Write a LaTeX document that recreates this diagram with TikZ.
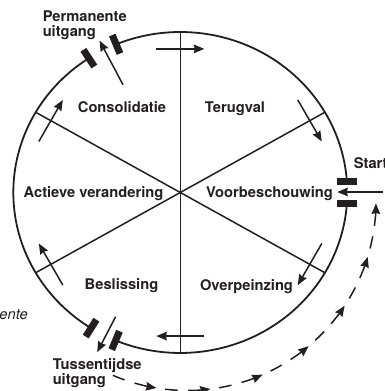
\documentclass[tikz,border=0pt]{standalone}
\usepackage{fontspec}
\setmainfont{TeX Gyre Heros}
\usetikzlibrary{arrows.meta,calc}
\definecolor{ink}{HTML}{231F20}

\begin{document}
\begin{tikzpicture}[
    x=1pt, y=1pt,
    font=\fontsize{14.7}{15}\selectfont\bfseries,
    color=ink, line width=1.5pt,
    phase/.style={anchor=base, inner sep=0pt},
    exitlabel/.style={anchor=north west, align=left, inner sep=0pt},
    exitbar/.style={fill=ink, inner sep=0pt, minimum width=20pt, minimum height=7pt},
    flow/.style={-{Stealth[length=10.5pt,width=8.5pt,inset=1pt]}},
  ]
\useasboundingbox (0,0) rectangle (385,391);
\coordinate (c) at (180.3,198.5);
\coordinate (dc) at (187,189.5);

% wheel, open at the three gates
\draw[line width=1.8pt] ($(c)+(4:167 and 160.5)$) arc[start angle=4, end angle=112.6, x radius=167, y radius=160.5];
\draw[line width=1.8pt] ($(c)+(123.2:167 and 160.5)$) arc[start angle=123.2, end angle=237.7, x radius=167, y radius=160.5];
\draw[line width=1.8pt] ($(c)+(247.2:167 and 160.5)$) arc[start angle=247.2, end angle=356, x radius=167, y radius=160.5];

\foreach \a in {90,30,-30}
  \draw ($(c)+(\a:167 and 160.5)$) -- ($(c)+(\a+180:167 and 160.5)$);

% clockwise flow across the spokes
\foreach \a in {90,30,-30,-90,-150,150}{
  \coordinate (x) at ($(c)+(\a:149.5 and 143.6)$);
  \draw[flow] ($(x)+(\a+90:24)$) -- ($(x)+(\a-90:24)$);
}

\node[phase] (cons) at (122,278) {Consolidatie};
\node[phase] (terug) at (235,278) {Terugval};
\node[phase] (actief) at (93.5,193) {Actieve verandering};
\node[phase] (voor) at (269.5,193) {Voorbeschouwing};
\node[phase] (besl) at (121.5,101) {Beslissing};
\node[phase] (over) at (246.5,100.5) {Overpeinzing};

% gates
\node[exitbar] (s1) at ($(c)+(4:167 and 160.5)$) {};
\node[exitbar] (s2) at ($(c)+(-4:167 and 160.5)$) {};
\node[exitbar, rotate=123.2] (p1) at ($(c)+(123.2:167 and 160.5)$) {};
\node[exitbar, rotate=112.6] (p2) at ($(c)+(112.6:167 and 160.5)$) {};
\node[exitbar, rotate=-122.3] (t1) at ($(c)+(-122.3:167 and 160.5)$) {};
\node[exitbar, rotate=-112.8] (t2) at ($(c)+(-112.8:167 and 160.5)$) {};

\coordinate (startin) at (383,199);
\coordinate (startend) at ($(c)+(-10,0.5)+(0:167 and 160.5)$);
\draw[flow] (startin) -- (startend);
\draw[flow] ($(c)+(118:122)$) -- ($(c)+(118:172)$);
\draw[flow] ($(c)+(-117.5:140)$) -- ($(c)+(-117.5:180)$);

\node[anchor=base west, inner sep=0pt] (start) at (353,222) {Start};
\node[exitlabel] (perm) at (42,381) {Permanente\\uitgang};
\node[exitlabel] (tuss) at (52,33) {Tussentijdse\\uitgang};
\node[anchor=base east, inner sep=0pt, font=\fontsize{14.7}{15}\selectfont\itshape] (ente) at (28.5,71) {ente};

% way back to the start
\foreach \k in {0,...,6}{
  \pgfmathsetmacro\t{-99.3+16.45*\k}
  \draw ($(dc)+(\t-13.8:189)$) arc[start angle=\t-13.8, end angle=\t-10, radius=189];
  \draw[flow] ($(dc)+(\t-6.8:189)$) arc[start angle=\t-6.8, end angle=\t, radius=189];
}

\end{tikzpicture}
\end{document}
